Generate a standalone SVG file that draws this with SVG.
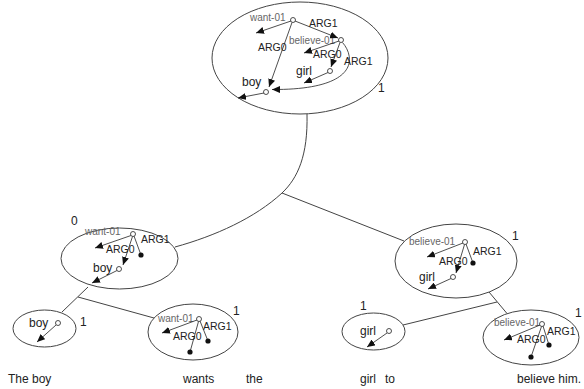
<svg xmlns="http://www.w3.org/2000/svg" width="584" height="389" viewBox="0 0 584 389">
<style>
text{font-family:"Liberation Sans",Arial,sans-serif;fill:#222}
.lbl{font-size:10.5px}
.pred{font-size:10px;fill:#666}
.ent{font-size:12px}
.num{font-size:12px}
.word{font-size:12px}
.frame{fill:none;stroke:#444;stroke-width:1}
.conn{fill:none;stroke:#444;stroke-width:1}
.e{fill:none;stroke:#222;stroke-width:0.8}
.a{fill:none;stroke:#222;stroke-width:0.8;marker-end:url(#ah)}
.v{fill:#fff;stroke:#222;stroke-width:0.8}
.d{fill:#111}
</style>
<defs>
<marker id="ah" markerUnits="userSpaceOnUse" markerWidth="9" markerHeight="7" refX="8" refY="3.5" orient="auto">
<path d="M0,0 L8,3.5 L0,7 Z" fill="#111"/>
</marker>
</defs>
<rect width="584" height="389" fill="#fff"/>
<g id="connectors">
<path class="conn" d="M307,114 C308,155 298,178 282,193 C255,218 215,236 175,247"/>
<line class="conn" x1="282" y1="193" x2="404" y2="241"/>
<line class="conn" x1="88" y1="287" x2="62" y2="312"/>
<line class="conn" x1="78" y1="297" x2="154" y2="318"/>
<line class="conn" x1="489" y1="292" x2="507" y2="313.5"/>
<line class="conn" x1="403" y1="325" x2="497" y2="302"/>
</g>
<g id="node-top">
<ellipse class="frame" cx="300" cy="58" rx="88" ry="56"/>
<text class="pred" x="250" y="21">want-01</text>
<text class="lbl" x="309" y="27">ARG1</text>
<text class="lbl" x="258" y="51">ARG0</text>
<text class="pred" x="289" y="44">believe-01</text>
<text class="lbl" x="313" y="58">ARG0</text>
<text class="lbl" x="344" y="65">ARG1</text>
<text class="ent" x="296" y="75">girl</text>
<text class="ent" x="242" y="86">boy</text>
<line class="a" x1="291" y1="21" x2="256" y2="33"/>
<line class="a" x1="295" y1="21" x2="338" y2="38"/>
<line class="a" x1="292" y1="22.5" x2="269" y2="87"/>
<line class="a" x1="339" y1="41" x2="304" y2="53"/>
<line class="a" x1="340" y1="42.5" x2="331" y2="67"/>
<path class="a" d="M342.5,42.5 C356,58 358,90 272,89.5"/>
<line class="a" x1="328" y1="72.5" x2="304" y2="83"/>
<line class="a" x1="264" y1="93" x2="238" y2="98"/>
<circle class="v" cx="293" cy="20" r="2.5"/>
<circle class="v" cx="341" cy="40" r="2.5"/>
<circle class="v" cx="330" cy="71" r="2.5"/>
<circle class="v" cx="266" cy="92" r="2.5"/>
<text class="num" x="378" y="92">1</text>
</g>
<g id="node-left">
<ellipse class="frame" cx="119.5" cy="258.5" rx="58.5" ry="30.5"/>
<text class="num" x="71" y="225">0</text>
<text class="pred" x="85" y="235">want-01</text>
<text class="lbl" x="141" y="243">ARG1</text>
<text class="lbl" x="106" y="253">ARG0</text>
<text class="ent" x="93" y="272">boy</text>
<line class="a" x1="131" y1="235.5" x2="95" y2="248"/>
<line class="e" x1="134" y1="236" x2="141" y2="255"/>
<line class="a" x1="132.5" y1="236.5" x2="123" y2="265"/>
<line class="a" x1="117" y1="270.5" x2="92" y2="283"/>
<circle class="v" cx="133" cy="234" r="2.5"/>
<circle class="d" cx="141" cy="255" r="2.6"/>
<circle class="v" cx="119" cy="269" r="2.5"/>
</g>
<g id="node-right">
<ellipse class="frame" cx="456" cy="261" rx="61" ry="37"/>
<text class="num" x="512" y="240">1</text>
<text class="pred" x="409" y="245">believe-01</text>
<text class="lbl" x="473" y="255">ARG1</text>
<text class="lbl" x="439" y="265">ARG0</text>
<text class="ent" x="419" y="281">girl</text>
<line class="a" x1="463" y1="243" x2="427" y2="257"/>
<line class="e" x1="466" y1="244" x2="473" y2="263"/>
<line class="a" x1="464.5" y1="244.5" x2="456" y2="273"/>
<line class="a" x1="451" y1="278.5" x2="428" y2="289"/>
<circle class="v" cx="465" cy="242" r="2.5"/>
<circle class="d" cx="473" cy="263" r="2.6"/>
<circle class="v" cx="453" cy="277" r="2.5"/>
</g>
<g id="node-boy">
<ellipse class="frame" cx="44.5" cy="328.5" rx="31.5" ry="18.5"/>
<text class="ent" x="29" y="327">boy</text>
<line class="a" x1="56" y1="325" x2="37" y2="342"/>
<circle class="v" cx="58" cy="323" r="2.5"/>
<text class="num" x="80" y="326">1</text>
</g>
<g id="node-want">
<ellipse class="frame" cx="193" cy="332" rx="45" ry="28"/>
<text class="pred" x="158" y="322">want-01</text>
<text class="lbl" x="203" y="330">ARG1</text>
<text class="lbl" x="173" y="340">ARG0</text>
<line class="a" x1="197" y1="320" x2="162" y2="333"/>
<line class="e" x1="200" y1="321" x2="208" y2="341"/>
<line class="e" x1="198.5" y1="321.5" x2="190" y2="352"/>
<circle class="v" cx="199" cy="319" r="2.5"/>
<circle class="d" cx="208" cy="341" r="2.6"/>
<circle class="d" cx="190" cy="352" r="2.6"/>
<text class="num" x="233" y="315">1</text>
</g>
<g id="node-girl">
<ellipse class="frame" cx="373.5" cy="331.5" rx="31.5" ry="18.5"/>
<text class="num" x="360" y="310">1</text>
<text class="ent" x="360" y="335">girl</text>
<line class="a" x1="387" y1="333" x2="367" y2="347"/>
<circle class="v" cx="389" cy="331" r="2.5"/>
</g>
<g id="node-believe">
<ellipse class="frame" cx="531" cy="337.5" rx="48" ry="27.5"/>
<text class="pred" x="494" y="326">believe-01</text>
<text class="lbl" x="547" y="335">ARG1</text>
<text class="lbl" x="517" y="343">ARG0</text>
<line class="a" x1="540" y1="325" x2="504" y2="340"/>
<line class="e" x1="543" y1="326" x2="549" y2="345"/>
<line class="e" x1="541.5" y1="326.5" x2="531" y2="357"/>
<circle class="v" cx="542" cy="324" r="2.5"/>
<circle class="d" cx="549" cy="345" r="2.6"/>
<circle class="d" cx="531" cy="357" r="2.6"/>
<text class="num" x="575" y="317">1</text>
</g>
<g id="sentence">
<text class="word" x="8" y="383">The boy</text>
<text class="word" x="183" y="383">wants</text>
<text class="word" x="246" y="383">the</text>
<text class="word" x="360" y="383">girl</text>
<text class="word" x="385" y="383">to</text>
<text class="word" x="517" y="383">believe him.</text>
</g>
</svg>
